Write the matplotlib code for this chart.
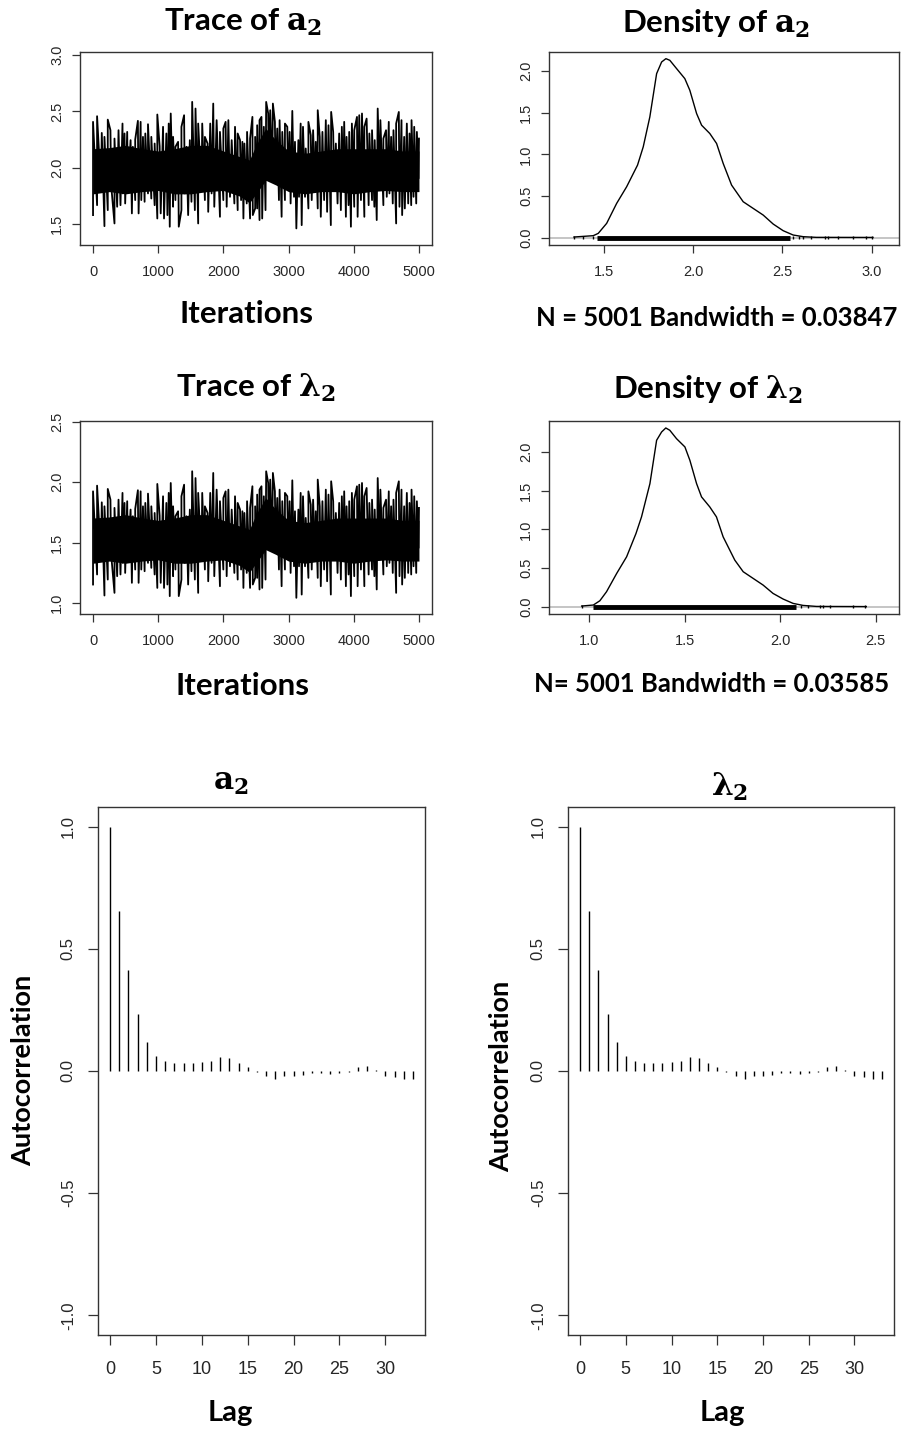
import matplotlib
matplotlib.use('Agg')
import matplotlib.pyplot as plt
from matplotlib.ticker import FormatStrFormatter

plt.rcParams['font.family'] = ['Liberation Sans', 'DejaVu Sans']
plt.rcParams['axes.unicode_minus'] = False
plt.rcParams['mathtext.fontset'] = 'custom'
plt.rcParams['mathtext.rm'] = 'DejaVu Serif:bold'
plt.rcParams['mathtext.it'] = 'DejaVu Serif:bold'
plt.rcParams['mathtext.bf'] = 'DejaVu Serif:bold'

# ---- trace of a2: spike tops / bottoms ----
a2_hi_iter = [0, 62, 134, 175, 226, 267, 329, 391, 452, 483, 524, 576, 611, 647, 688, 730, 766, 802, 843, 894,
              945, 986, 1022, 1074, 1125, 1161, 1192, 1228, 1264, 1305, 1356, 1397, 1433, 1485, 1521, 1572, 1613,
              1675, 1716, 1757, 1798, 1844, 1896, 1947, 1999, 2034, 2076, 2127, 2178, 2219, 2255, 2291, 2322, 2363,
              2409, 2445, 2487,
              2518, 2554, 2584, 2620, 2656, 2687, 2718, 2759, 2790, 2826, 2862, 2903, 2944, 2980, 3016, 3057, 3098,
              3150, 3185, 3221, 3263, 3304, 3340, 3376, 3417, 3447, 3478, 3519, 3571, 3612, 3653, 3684, 3725, 3776,
              3817, 3853, 3889, 3930, 3971, 4007, 4049, 4084, 4126, 4162, 4197, 4239, 4280, 4321, 4367, 4408, 4454,
              4495, 4537, 4573, 4609, 4650, 4691, 4732, 4773, 4814, 4855, 4886, 4927, 4968, 5000]
a2_hi_val = [2.408, 2.458, 2.310, 2.275, 2.428, 2.334, 2.260, 2.334, 2.393, 2.305, 2.319, 2.246, 2.187, 2.251,
             2.417, 2.408, 2.275, 2.305, 2.387, 2.275, 2.216, 2.473, 2.192, 2.364, 2.305, 2.393, 2.482, 2.275,
             2.187, 2.231, 2.364, 2.467, 2.187, 2.246, 2.585, 2.526, 2.393, 2.393, 2.275, 2.216, 2.393, 2.570,
             2.423, 2.319, 2.349, 2.408, 2.423, 2.246, 2.364, 2.305, 2.246, 2.231, 2.216, 2.319, 2.260, 2.452,
             2.275,
             2.378, 2.423, 2.452, 2.364, 2.585, 2.482, 2.511, 2.570, 2.408, 2.349, 2.423, 2.319, 2.393, 2.364,
             2.319, 2.505, 2.231, 2.246, 2.393, 2.364, 2.172, 2.408, 2.290, 2.334, 2.231, 2.511, 2.275, 2.319,
             2.423, 2.378, 2.496, 2.319, 2.216, 2.305, 2.364, 2.408, 2.275, 2.319, 2.393, 2.334, 2.452, 2.467,
             2.482, 2.364, 2.437, 2.305, 2.334, 2.246, 2.526, 2.423, 2.260, 2.334, 2.408, 2.275, 2.334, 2.393,
             2.496, 2.423, 2.275, 2.393, 2.305, 2.423, 2.364, 2.319, 2.260]
a2_lo_iter = [0, 62, 123, 175, 226, 278, 329, 370, 421, 457, 493, 534, 596, 647, 699, 740, 791, 843, 894, 945,
              986, 1038, 1089, 1141, 1177, 1228, 1264, 1315, 1356, 1408, 1459, 1510, 1562, 1613, 1665, 1716, 1767,
              1819, 1860, 1947, 1999, 2050, 2101, 2168, 2219, 2271, 2307, 2358, 2409, 2451, 2487,
              2518, 2554, 2595, 2646, 2697, 2749, 2800, 2852, 2893, 2944, 2995, 3031, 3083, 3119, 3160, 3201, 3252,
              3304, 3355, 3406, 3447, 3494, 3545, 3591, 3648, 3699, 3751, 3802, 3838, 3879, 3920, 3956, 4007, 4059,
              4110, 4162, 4228, 4280, 4316, 4352, 4403, 4454, 4506, 4547, 4598, 4650, 4701, 4742, 4783, 4835, 4881,
              4917, 4958, 4994]
a2_lo_val = [1.582, 1.670, 1.803, 1.484, 1.626, 1.847, 1.508, 1.656, 1.670, 1.774, 1.685, 1.833, 1.597, 1.715,
             1.597, 1.715, 1.700, 1.774, 1.729, 1.670, 1.552, 1.597, 1.552, 1.582, 1.479, 1.656, 1.715, 1.479,
             1.626, 1.774, 1.582, 1.700, 1.626, 1.508, 1.803, 1.715, 1.611, 1.774, 1.656, 1.567, 1.715, 1.656,
             1.744, 1.685, 1.626, 1.715, 1.552, 1.685, 1.552, 1.582, 1.641,
             1.641, 1.538, 1.552, 1.626, 1.892, 1.921, 1.892, 1.715, 1.567, 1.715, 1.803, 1.685, 1.744, 1.464,
             1.744, 1.493, 1.744, 1.641, 1.715, 1.788, 1.641, 1.567, 1.715, 1.611, 1.493, 1.803, 1.685, 1.626,
             1.803, 1.567, 1.670, 1.479, 1.656, 1.567, 1.715, 1.567, 1.670, 1.715, 1.656, 1.538, 1.803, 1.670,
             1.744, 1.774, 1.685, 1.508, 1.656, 1.582, 1.641, 1.685, 1.670, 1.744, 1.685, 1.907]
# solid black core of the trace (edges read at a few iterations)
core_iter = [0, 250, 500, 750, 1000, 1250, 1500, 1750, 2000, 2250, 2400, 2500, 2650, 2800, 3000, 3250, 3500,
             3750, 4000, 4250, 4500, 4750, 5000]
a2_core_hi = [2.17, 2.18, 2.20, 2.17, 2.15, 2.17, 2.20, 2.20, 2.15, 2.10, 2.07, 2.20, 2.35, 2.25, 2.15, 2.13,
              2.15, 2.17, 2.17, 2.17, 2.17, 2.15, 2.15]
a2_core_lo = [1.77, 1.79, 1.77, 1.79, 1.80, 1.77, 1.77, 1.79, 1.80, 1.75, 1.69, 1.77, 1.89, 1.85, 1.79, 1.77,
              1.79, 1.79, 1.77, 1.79, 1.80, 1.79, 1.79]

# ---- trace of lambda2 (same iterations) ----
l2_hi_val = [1.924, 1.971, 1.833, 1.800, 1.944, 1.855, 1.787, 1.855, 1.911, 1.828, 1.842, 1.773, 1.718, 1.778,
             1.933, 1.924, 1.800, 1.828, 1.905, 1.800, 1.745, 1.985, 1.723, 1.883, 1.828, 1.911, 1.993, 1.800,
             1.718, 1.759, 1.883, 1.979, 1.718, 1.773, 2.090, 2.034, 1.911, 1.911, 1.800, 1.745, 1.911, 2.076,
             1.938, 1.842, 1.869, 1.924, 1.938, 1.773, 1.883, 1.828, 1.773, 1.759, 1.745, 1.842, 1.787, 1.966,
             1.800,
             1.897, 1.938, 1.966, 1.883, 2.090, 1.993, 2.021, 2.076, 1.924, 1.869, 1.938, 1.842, 1.911, 1.883,
             1.842, 2.015, 1.759, 1.773, 1.911, 1.883, 1.704, 1.924, 1.814, 1.855, 1.759, 2.021, 1.800, 1.842,
             1.938, 1.897, 2.007, 1.842, 1.745, 1.828, 1.883, 1.924, 1.800, 1.842, 1.911, 1.855, 1.966, 1.979,
             1.993, 1.883, 1.952, 1.828, 1.855, 1.773, 2.034, 1.938, 1.787, 1.855, 1.924, 1.800, 1.855, 1.911,
             2.007, 1.938, 1.800, 1.911, 1.828, 1.938, 1.883, 1.842, 1.787]
l2_lo_val = [1.153, 1.236, 1.360, 1.062, 1.194, 1.401, 1.084, 1.222, 1.236, 1.332, 1.249, 1.387, 1.167, 1.277,
             1.167, 1.277, 1.263, 1.332, 1.291, 1.236, 1.125, 1.167, 1.125, 1.153, 1.057, 1.222, 1.277, 1.057,
             1.194, 1.332, 1.153, 1.263, 1.194, 1.084, 1.360, 1.277, 1.180, 1.332, 1.222, 1.139, 1.277, 1.222,
             1.304, 1.249, 1.194, 1.277, 1.125, 1.249, 1.125, 1.153, 1.208,
             1.208, 1.112, 1.125, 1.194, 1.442, 1.470, 1.442, 1.277, 1.139, 1.277, 1.360, 1.249, 1.304, 1.043,
             1.304, 1.070, 1.304, 1.208, 1.277, 1.346, 1.208, 1.139, 1.277, 1.180, 1.070, 1.360, 1.249, 1.194,
             1.360, 1.139, 1.236, 1.057, 1.222, 1.139, 1.277, 1.139, 1.236, 1.277, 1.222, 1.112, 1.360, 1.236,
             1.304, 1.332, 1.249, 1.084, 1.222, 1.153, 1.208, 1.249, 1.236, 1.304, 1.249, 1.456]
l2_core_hi = [1.703, 1.712, 1.731, 1.703, 1.684, 1.703, 1.731, 1.731, 1.684, 1.637, 1.609, 1.731, 1.871, 1.777,
              1.684, 1.665, 1.684, 1.703, 1.703, 1.703, 1.703, 1.684, 1.684]
l2_core_lo = [1.329, 1.347, 1.329, 1.347, 1.357, 1.329, 1.329, 1.347, 1.357, 1.310, 1.254, 1.329, 1.441, 1.403,
              1.347, 1.329, 1.347, 1.347, 1.329, 1.347, 1.357, 1.347, 1.347]

# ---- densities ----
dens_a2_x = [1.332, 1.440, 1.468, 1.515, 1.571, 1.627, 1.688, 1.720, 1.757, 1.795, 1.823, 1.847, 1.869, 1.907,
             1.953, 1.981, 2.019, 2.047, 2.093, 2.131, 2.168, 2.215, 2.280, 2.336, 2.392, 2.448, 2.504, 2.560,
             2.616, 2.690, 3.007]
dens_a2_y = [0.008, 0.024, 0.052, 0.172, 0.412, 0.612, 0.872, 1.092, 1.452, 1.972, 2.112, 2.152, 2.132, 2.032,
             1.912, 1.772, 1.492, 1.352, 1.252, 1.132, 0.892, 0.632, 0.432, 0.352, 0.272, 0.164, 0.084, 0.032,
             0.012, 0.004, 0.003]
rug_a2_band = [1.459, 2.541]
rug_a2_out = [1.332, 1.381, 1.440, 2.560, 2.591, 2.616, 2.662, 2.737, 2.756, 2.812, 2.896, 2.966, 3.004]

dens_l2_x = [0.962, 1.023, 1.057, 1.092, 1.145, 1.197, 1.246, 1.275, 1.319, 1.354, 1.380, 1.402, 1.423, 1.458,
             1.502, 1.528, 1.563, 1.589, 1.632, 1.667, 1.702, 1.763, 1.807, 1.859, 1.911, 1.963, 2.016, 2.068,
             2.120, 2.190, 2.451]
dens_l2_y = [0.009, 0.022, 0.077, 0.194, 0.430, 0.645, 0.946, 1.161, 1.591, 2.151, 2.258, 2.310, 2.280, 2.172,
             2.065, 1.892, 1.591, 1.419, 1.290, 1.161, 0.903, 0.602, 0.452, 0.366, 0.280, 0.172, 0.099, 0.043,
             0.017, 0.004, 0.002]
rug_l2_band = [1.023, 2.085]
rug_l2_out = [0.962, 2.111, 2.146, 2.207, 2.225, 2.260, 2.382, 2.443]

# ---- autocorrelation ----
lags = list(range(34))
acf_a2 = [1.0, 0.654, 0.412, 0.234, 0.120, 0.062, 0.041, 0.033, 0.033, 0.033, 0.038, 0.042, 0.059, 0.055,
          0.034, 0.018, -0.003, -0.019, -0.031, -0.022, -0.020, -0.015, -0.008, -0.010, -0.013, -0.010, -0.005,
          0.016, 0.022, 0.006, -0.020, -0.024, -0.031, -0.033]
acf_l2 = [1.0, 0.654, 0.412, 0.234, 0.120, 0.062, 0.041, 0.033, 0.033, 0.033, 0.038, 0.042, 0.059, 0.055,
          0.034, 0.018, -0.003, -0.019, -0.031, -0.022, -0.020, -0.015, -0.008, -0.010, -0.013, -0.010, -0.005,
          0.016, 0.022, 0.006, -0.020, -0.024, -0.031, -0.033]

W, H = 901, 1430
fig = plt.figure(figsize=(W / 100, H / 100), dpi=100)


def box(x0, y0, x1, y1):
    return [x0 / W, 1 - y1 / H, (x1 - x0) / W, (y1 - y0) / H]


def label(x, y, s, size=22.5, rot=0):
    fig.text(x / W, 1 - y / H, s, ha='center', va='center', fontsize=size, rotation=rot,
             family=['Lato', 'DejaVu Sans'], weight='bold')


def r_style(ax, xsize, ysize, xpad, ypad, tlen):
    for sp in ax.spines.values():
        sp.set_color('#333333')
        sp.set_linewidth(1.0)
    ax.tick_params(axis='x', length=tlen, width=0.9, color='#333333', labelsize=xsize, pad=xpad,
                   labelcolor='#262626')
    ax.tick_params(axis='y', length=tlen, width=0.9, color='#333333', labelsize=ysize, pad=ypad,
                   labelcolor='#262626', labelrotation=90)
    for t in ax.get_yticklabels():
        t.set_va('center')


def trace(ax, hi_iter, hi_val, lo_iter, lo_val, core_lo, core_hi, ylim, yticks):
    ax.fill_between(core_iter, core_lo, core_hi, color='black', lw=0)
    pts = sorted(list(zip(hi_iter, hi_val)) + list(zip(lo_iter, lo_val)))
    ax.plot([p[0] for p in pts], [p[1] for p in pts], color='black', lw=1.3)
    ax.set_xlim(-200, 5200)
    ax.set_ylim(*ylim)
    ax.set_xticks([0, 1000, 2000, 3000, 4000, 5000])
    ax.set_yticks(yticks)
    ax.yaxis.set_major_formatter(FormatStrFormatter('%.1f'))
    r_style(ax, 10.5, 10.5, 9, 6, 5.5)


def density(ax, xs, ys, band, outs, xlim, ylim, xticks):
    ax.axhline(0, color='#c0c0c0', lw=1.3, zorder=1)
    ax.plot(band, [0, 0], color='black', lw=3.5, solid_capstyle='butt', zorder=2)
    ax.vlines(outs, -0.02, 0.02, color='black', lw=1, zorder=2)
    ax.plot(xs, ys, color='black', lw=1.0, zorder=3)
    ax.set_xlim(*xlim)
    ax.set_ylim(*ylim)
    ax.set_xticks(xticks)
    ax.set_yticks([0, 0.5, 1.0, 1.5, 2.0])
    ax.xaxis.set_major_formatter(FormatStrFormatter('%.1f'))
    ax.yaxis.set_major_formatter(FormatStrFormatter('%.1f'))
    r_style(ax, 10.5, 10.5, 9, 6, 5.5)


def acf(ax, vals):
    ax.vlines(lags, 0, vals, color='black', lw=1.0)
    ax.set_xlim(-1.32, 34.32)
    ax.set_ylim(-1.08, 1.08)
    ax.set_xticks([0, 5, 10, 15, 20, 25, 30])
    ax.set_yticks([-1.0, -0.5, 0.0, 0.5, 1.0])
    ax.yaxis.set_major_formatter(FormatStrFormatter('%.1f'))
    r_style(ax, 13, 12, 12, 9, 7)


ax1 = fig.add_axes(box(80, 52, 432, 245))
trace(ax1, a2_hi_iter, a2_hi_val, a2_lo_iter, a2_lo_val, a2_core_lo, a2_core_hi, (1.317, 3.027),
      [1.5, 2.0, 2.5, 3.0])
ax2 = fig.add_axes(box(549, 52, 899, 245))
density(ax2, dens_a2_x, dens_a2_y, rug_a2_band, rug_a2_out, (1.192, 3.153), (-0.088, 2.232),
        [1.5, 2.0, 2.5, 3.0])
ax3 = fig.add_axes(box(80, 421, 432, 614))
trace(ax3, a2_hi_iter, l2_hi_val, a2_lo_iter, l2_lo_val, l2_core_lo, l2_core_hi, (0.909, 2.506),
      [1.0, 1.5, 2.0, 2.5])
ax4 = fig.add_axes(box(549, 421, 899, 614))
density(ax4, dens_l2_x, dens_l2_y, rug_l2_band, rug_l2_out, (0.791, 2.622), (-0.094, 2.4),
        [1.0, 1.5, 2.0, 2.5])
ax5 = fig.add_axes(box(98, 807, 425, 1335))
acf(ax5, acf_a2)
ax6 = fig.add_axes(box(568, 807, 894, 1335))
acf(ax6, acf_l2)

label(243, 22, r'Trace of $a_2$')
label(716, 24, r'Density of $a_2$')
label(246, 314, 'Iterations')
label(717, 318, 'N = 5001 Bandwidth = 0.03847', size=18.5)
label(256, 388, r'Trace of $\lambda_2$')
label(708, 390, r'Density of $\lambda_2$')
label(242, 686, 'Iterations')
label(712, 684, 'N= 5001 Bandwidth = 0.03585', size=18.5)
label(231, 783, r'$a_2$')
label(730, 787, r'$\lambda_2$')
label(23, 1070, 'Autocorrelation', size=19.5, rot=90)
label(501, 1076, 'Autocorrelation', size=19.5, rot=90)
label(230, 1413, 'Lag', size=21)
label(722, 1413, 'Lag', size=21)

fig.savefig('out.png', dpi=100)
